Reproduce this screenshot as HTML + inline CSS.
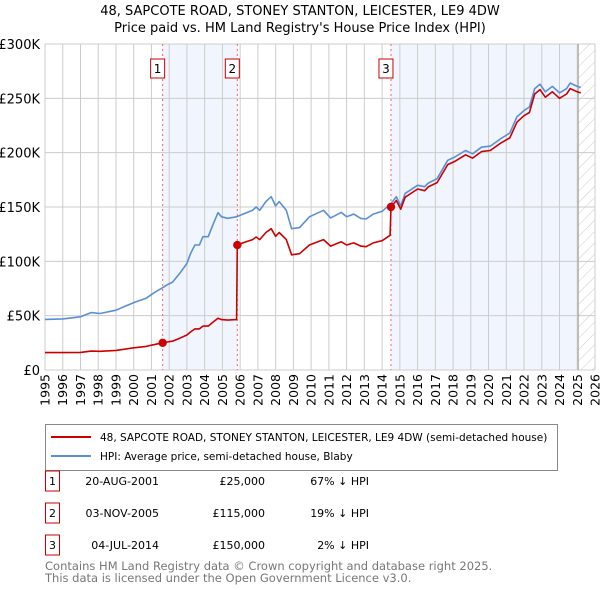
<!DOCTYPE html>
<html><head><meta charset="utf-8"><style>
body{margin:0;background:#fff;font-family:"Liberation Sans","DejaVu Sans",sans-serif;}
#wrap{position:relative;width:600px;height:590px;overflow:hidden;}
svg text{font-family:"DejaVu Sans","Liberation Sans",sans-serif;}
</style></head><body>
<div id="wrap">
<svg id="chart" width="600" height="590"></svg>
</div>
<script>
const hpiYears=[1995,1996,1997,1997.6,1998.1,1999,2000,2000.7,2001.1,2001.65,2001.85,2002.2,2002.6,2003,2003.2,2003.45,2003.7,2003.9,2004.2,2004.5,2004.75,2004.95,2005.3,2005.8,2006.25,2006.7,2006.9,2007.1,2007.45,2007.75,2008,2008.2,2008.6,2008.9,2009.35,2009.9,2010.7,2011.1,2011.7,2012,2012.4,2012.8,2013.1,2013.5,2014,2014.5,2014.8,2015.05,2015.3,2016,2016.4,2016.6,2017.1,2017.7,2018.1,2018.7,2019.1,2019.6,2020.1,2020.7,2021.2,2021.6,2022,2022.3,2022.6,2022.9,2023.2,2023.6,2024,2024.4,2024.6,2025.0,2025.2];
const hpiValues=[46.6,47,49,52.8,52,55,62,66,70.6,76,78,81,89,98,107,115,115,122.7,122.7,135,144.8,141,139.6,141,144,147,150,147,155,159.5,151,155,147,130,131,141,147,140,145,141,143.5,139.5,139,143.5,146,153,159.5,151,162.5,170,168.7,172,176,193,196,202,199,205,206,213,218,233,238.7,242,259,263,256,261,255,259,264,261,260];
const paidYears=[1995,1996,1997,1997.6,1998.1,1999,2000,2000.7,2001.1,2001.63,2001.85,2002.2,2002.6,2003,2003.2,2003.45,2003.7,2003.9,2004.2,2004.5,2004.75,2004.95,2005.3,2005.8,2005.84,2006.25,2006.7,2006.9,2007.1,2007.45,2007.75,2008,2008.2,2008.6,2008.9,2009.35,2009.9,2010.7,2011.1,2011.7,2012,2012.4,2012.8,2013.1,2013.5,2014,2014.45,2014.5,2014.8,2015.05,2015.3,2016,2016.4,2016.6,2017.1,2017.7,2018.1,2018.7,2019.1,2019.6,2020.1,2020.7,2021.2,2021.6,2022,2022.3,2022.6,2022.9,2023.2,2023.6,2024,2024.4,2024.6,2025.0,2025.2];
const paidValues=[16,16,16.2,17.4,17.2,18,20.4,21.7,23.2,25,25.7,26.6,29.3,32.2,35,37.8,37.8,40.4,40.4,44.4,47.6,46.4,45.9,46.4,115,117.5,120,122.4,120,126.5,130,123,126.5,120,106,107,115,120,114,118,115,117,114,113.5,117,119,124,150,156,148,159,166.6,165,168.5,172.5,189,192,198,195,201,202,209,213.6,228,234,237,254,258,251,256,250,254,259,256,255];
const saleYears=[2001.63,2005.84,2014.5];
const saleValues=[25,115,150];
const saleLabels=["1","2","3"];
const yTicks=[0,50,100,150,200,250,300];
const yTickLabels=["£0","£50K","£100K","£150K","£200K","£250K","£300K"];
const xTicks=[1995,1996,1997,1998,1999,2000,2001,2002,2003,2004,2005,2006,2007,2008,2009,2010,2011,2012,2013,2014,2015,2016,2017,2018,2019,2020,2021,2022,2023,2024,2025,2026];
const dataEnd=2025.05;

const L=45,R=595,T=44,B=370;
const x=y=>L+(y-1995)/(2026-1995)*(R-L);
const yS=v=>B-v/300*(B-T);
const NS="http://www.w3.org/2000/svg";
const svg=document.getElementById('chart');
function mk(tag,attrs,parent){const e=document.createElementNS(NS,tag);for(const k in attrs)e.setAttribute(k,attrs[k]);(parent||svg).appendChild(e);return e;}

let t=mk('text',{x:300,y:15,'text-anchor':'middle','font-size':13,fill:'#000'});t.textContent="48, SAPCOTE ROAD, STONEY STANTON, LEICESTER, LE9 4DW";


t=mk('text',{x:300,y:32,'text-anchor':'middle','font-size':13,fill:'#000'});t.textContent="Price paid vs. HM Land Registry's House Price Index (HPI)";



const defs=mk('defs',{});
const pat=mk('pattern',{id:'hatch',width:8,height:8,patternUnits:'userSpaceOnUse',patternTransform:'rotate(45)'},defs);
mk('line',{x1:0,y1:0,x2:0,y2:8,stroke:'#ccc','stroke-width':1},pat);

let s=mk('rect',{x:x(saleYears[0]),y:T,width:x(saleYears[1])-x(saleYears[0]),height:B-T,fill:'#eef3fc','fill-opacity':0.8});


s=mk('rect',{x:x(saleYears[2]),y:T,width:x(dataEnd)-x(saleYears[2]),height:B-T,fill:'#eef3fc','fill-opacity':0.8});


s=mk('rect',{x:x(dataEnd),y:T,width:R-x(dataEnd),height:B-T,fill:'url(#hatch)'});



xTicks.forEach(yr=>{
  const g=mk('line',{x1:x(yr),x2:x(yr),y1:T,y2:B,stroke:'#cccccc','stroke-width':1});
  
  
  const lb=mk('text',{transform:`translate(${x(yr)+4.5},${B+4}) rotate(-90)`,'text-anchor':'end','font-size':12.5,fill:'#000'});
  lb.textContent=yr;
  
  
});
yTicks.forEach((v,i)=>{
  const g=mk('line',{x1:L,x2:R,y1:yS(v),y2:yS(v),stroke:'#cccccc','stroke-width':1});
  
  
  const lb=mk('text',{x:40,y:yS(v)+5,'text-anchor':'end','font-size':13,fill:'#000'});
  lb.textContent=yTickLabels[i];
  
  
});
const ed=mk('line',{x1:x(dataEnd),x2:x(dataEnd),y1:T,y2:B,stroke:'#999','stroke-width':1});



saleYears.forEach((yr,i)=>{
  const l=mk('line',{x1:x(yr),x2:x(yr),y1:T,y2:B,stroke:'#ee6666','stroke-width':1,'stroke-dasharray':'2,3'});
  
  
  const bx=mk('rect',{x:x(yr)-12,y:59,width:14,height:19,fill:'#fff',stroke:'#cc0000','stroke-width':1});
  
  
  const tx=mk('text',{x:x(yr)-5,y:73,'text-anchor':'middle','font-size':12,fill:'#000'});
  tx.textContent=saleLabels[i];
  
  
});

function path(xs,vs,color,name){
  const d=xs.map((yr,i)=>(i?'L':'M')+x(yr).toFixed(1)+','+yS(vs[i]).toFixed(1)).join('');
  const p=mk('path',{d:d,fill:'none',stroke:color,'stroke-width':1.6,'stroke-linejoin':'round'});
  
  
}
path(hpiYears,hpiValues,'#5b8fd4','hpi-line');
path(paidYears,paidValues,'#cc0000','price-paid-line');
saleYears.forEach((yr,i)=>{
  const c=mk('circle',{cx:x(yr),cy:yS(saleValues[i]),r:4.2,fill:'#cc0000'});
  
  
});

const lg=mk('rect',{x:45.5,y:424.5,width:512,height:46,fill:'#fff',stroke:'#888','stroke-width':1});


mk('line',{x1:51,x2:91,y1:437,y2:437,stroke:'#cc0000','stroke-width':2});
let lt=mk('text',{x:100,y:441,'font-size':10.5,fill:'#000'});
lt.textContent="48, SAPCOTE ROAD, STONEY STANTON, LEICESTER, LE9 4DW (semi-detached house)";


mk('line',{x1:51,x2:91,y1:456,y2:456,stroke:'#5b8fd4','stroke-width':2});
lt=mk('text',{x:100,y:460,'font-size':10.5,fill:'#000'});
lt.textContent="HPI: Average price, semi-detached house, Blaby";



const dates=["20-AUG-2001","03-NOV-2005","04-JUL-2014"];
const prices=["£25,000","£115,000","£150,000"];
const pcts=["67% ↓ HPI","19% ↓ HPI","2% ↓ HPI"];
dates.forEach((d,i)=>{
  const cy=481+i*32;
  const b=mk('rect',{x:45.5,y:cy-10,width:14,height:20,fill:'#fff',stroke:'#cc0000','stroke-width':1});
  
  
  let tt=mk('text',{x:52.5,y:cy+4,'text-anchor':'middle','font-size':11});tt.textContent=saleLabels[i];
  
  
  tt=mk('text',{x:159,y:cy+4,'text-anchor':'end','font-size':11});tt.textContent=d;
  
  
  tt=mk('text',{x:265,y:cy+4,'text-anchor':'end','font-size':11});tt.textContent=prices[i];
  
  
  tt=mk('text',{x:369,y:cy+4,'text-anchor':'end','font-size':11});tt.textContent=pcts[i];
  
  
});
let ft=mk('text',{x:45,y:570,'font-size':11.5,fill:'#777'});ft.textContent="Contains HM Land Registry data © Crown copyright and database right 2025.";


ft=mk('text',{x:45,y:582,'font-size':11.5,fill:'#777'});ft.textContent="This data is licensed under the Open Government Licence v3.0.";


</script>
</body></html>
